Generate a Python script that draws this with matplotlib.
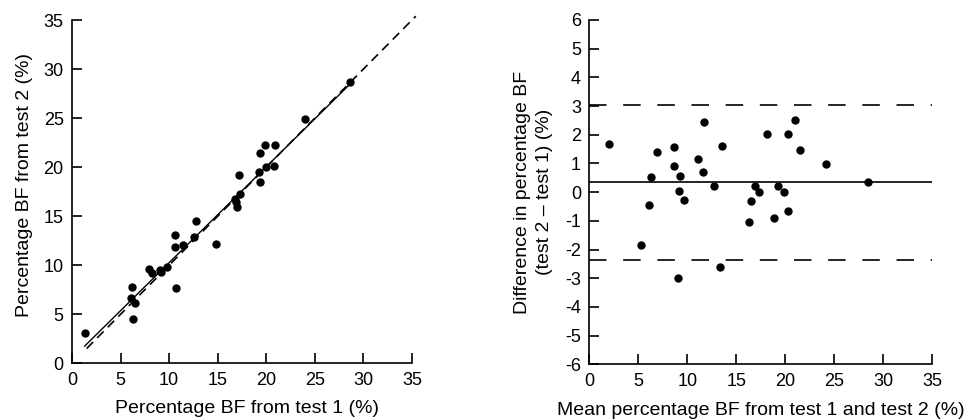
import matplotlib.pyplot as plt

plt.rcParams['font.family'] = ['Liberation Sans', 'DejaVu Sans']

# test 1 vs test 2 (left panel)
test1 = [1.3, 6.2, 6.1, 6.5, 6.3, 7.95, 8.25, 9.05, 9.2, 9.8, 10.7, 10.6, 11.4,
         10.6, 12.6, 12.8, 14.8, 17.2, 16.75, 17.3, 16.9, 17.0, 19.4, 19.9, 20.9,
         19.3, 20.0, 20.8, 19.4, 24.0, 28.6]
test2 = [3.1, 7.75, 6.7, 6.1, 4.55, 9.6, 9.25, 9.5, 9.3, 9.8, 7.7, 11.9, 12.1,
         13.1, 12.9, 14.5, 12.2, 19.2, 16.8, 17.3, 16.4, 15.9, 21.4, 22.3, 22.3,
         19.55, 20.0, 20.1, 18.5, 24.9, 28.7]

# regression line endpoints and line of identity
reg_x = [1.3, 28.6]
reg_y = [1.75, 28.45]
ident = [1.5, 35.4]

# Bland-Altman (right panel)
mean_bf = [2.04, 6.3, 6.9, 6.1, 8.64, 8.64, 9.26, 9.15, 9.66, 11.1, 11.6, 11.7,
           12.7, 13.5, 16.9, 17.3, 16.5, 18.1, 19.3, 19.9, 20.3, 21.0, 21.5, 24.2,
           28.4, 5.24, 16.3, 18.85, 20.3, 9.0, 13.3]
diff_bf = [1.67, 0.52, 1.39, -0.45, 1.57, 0.92, 0.55, 0.05, -0.27, 1.14, 0.70, 2.43,
           0.2, 1.62, 0.23, 0.0, -0.30, 2.03, 0.2, 0.02, 2.03, 2.5, 1.45, 0.99,
           0.35, -1.84, -1.05, -0.9, -0.67, -2.98, -2.6]
mean_diff = 0.34
upper_lim = 3.03
lower_lim = -2.36

ticks_35 = [0, 5, 10, 15, 20, 25, 30, 35]
ticks_diff = list(range(-6, 7))

fig = plt.figure(figsize=(9.71, 4.19), dpi=100)
ax1 = fig.add_axes([0.0742, 0.133, 0.350, 0.819])
ax2 = fig.add_axes([0.607, 0.1305, 0.353, 0.822])

fs = 13    # tick labels
lfs = 14   # axis titles

ax1.plot(test1, test2, 'o', color='black', ms=5)
ax1.plot(reg_x, reg_y, '-', color='black', lw=1.0)
ax1.plot(ident, ident, color='black', lw=1.2, dashes=(5.5, 3.5), clip_on=False)
ax1.set_xlim(0, 35)
ax1.set_ylim(0, 35)
ax1.set_xticks(ticks_35)
ax1.set_yticks(ticks_35)
ax1.set_xlabel('Percentage BF from test 1 (%)', fontsize=lfs)
ax1.set_ylabel('Percentage BF from test 2 (%)', fontsize=lfs)
ax1.xaxis.set_label_coords(0.515, -0.108)
ax1.yaxis.set_label_coords(-0.115, 0.52)

ax2.plot(mean_bf, diff_bf, 'o', color='black', ms=5)
ax2.plot([0, 35], [mean_diff, mean_diff], '-', color='black', lw=1.2)
ax2.plot([0, 35], [upper_lim, upper_lim], color='black', lw=1.2, dashes=(10.5, 10))
ax2.plot([0, 35], [lower_lim, lower_lim], color='black', lw=1.2, dashes=(10.5, 10))
ax2.set_xlim(0, 35)
ax2.set_ylim(-6, 6)
ax2.set_xticks(ticks_35)
ax2.set_yticks(ticks_diff)
ax2.set_yticklabels([str(t) for t in ticks_diff])
ax2.set_xlabel('Mean percentage BF from test 1 and test 2 (%)', fontsize=lfs)
ax2.set_ylabel('Difference in percentage BF\n(test 2 – test 1) (%)', fontsize=lfs,
               linespacing=1.45)
ax2.xaxis.set_label_coords(0.5, -0.108)
ax2.yaxis.set_label_coords(-0.105, 0.5)

for ax in (ax1, ax2):
    for s in ('top', 'right'):
        ax.spines[s].set_visible(False)
    for s in ('left', 'bottom'):
        ax.spines[s].set_linewidth(1.2)
    ax.tick_params(direction='in', length=7, width=1.2, labelsize=fs, pad=6)

plt.savefig('out.png', dpi=100)
